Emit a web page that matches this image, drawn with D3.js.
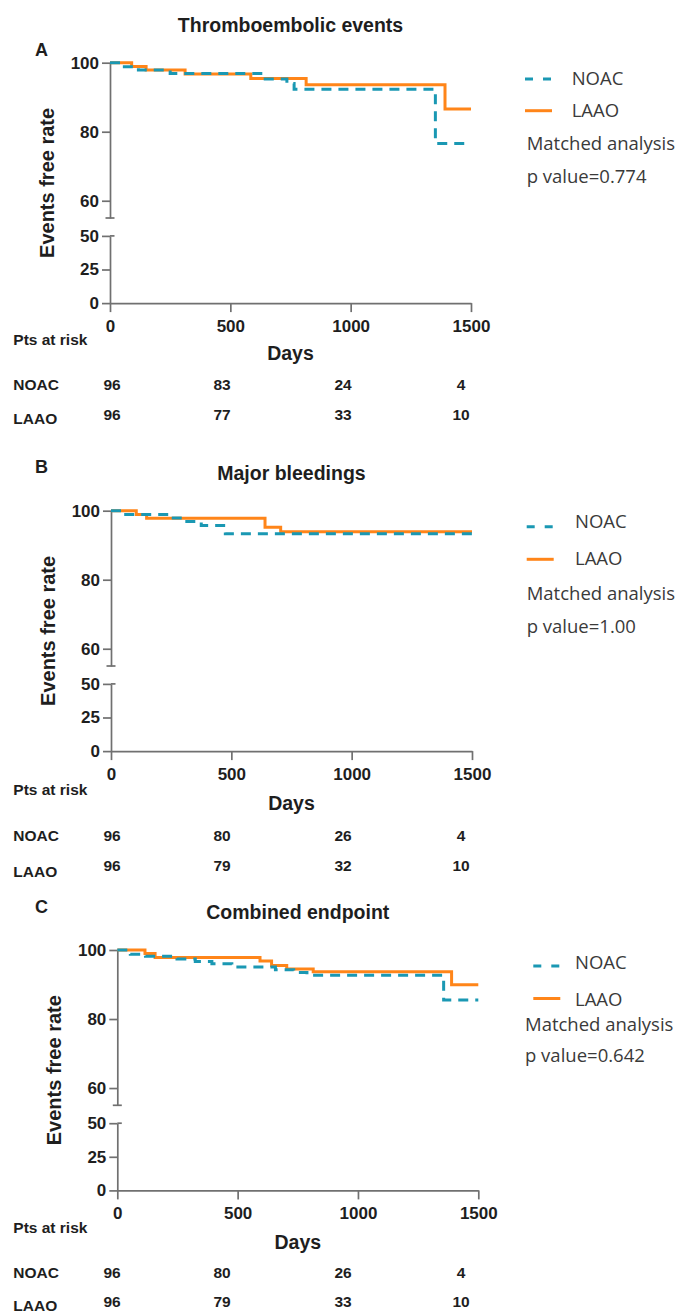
<!DOCTYPE html>
<html>
<head>
<meta charset="utf-8">
<script src="https://cdn.jsdelivr.net/npm/d3@7"></script>
<style>
  html, body { margin: 0; padding: 0; background: #fff; }
  svg { display: block; }
</style>
</head>
<body>
<svg id="chart" width="682" height="1314"></svg>
<script>
// ---------------- DATA ----------------
const dayTicks = [0, 500, 1000, 1500];
const upperTicks = [60, 80, 100];
const lowerTicks = [0, 25, 50];
const panelLetters = ["A", "B", "C"];
const panelTitles = ["Thromboembolic events", "Major bleedings", "Combined endpoint"];
const seriesNames = ["NOAC", "LAAO"];
const noteText = "Matched analysis";
const pValues = ["p value=0.774", "p value=1.00", "p value=0.642"];
const riskHeader = "Pts at risk";
const xLabel = "Days";
const yLabel = "Events free rate";

// numbers at risk at 0, 500, 1000, 1500 days
const riskNOAC = [[96, 83, 24, 4], [96, 80, 26, 4], [96, 80, 26, 4]];
const riskLAAO = [[96, 77, 33, 10], [96, 79, 32, 10], [96, 79, 33, 10]];

// Kaplan-Meier step curves: [day, event-free %]
const noacA = [[0,100],[50,98.8],[118,97.9],[250,96.9],[645,95.3],[735,94.0],[765,92.3],[1352,76.6],[1500,76.6]];
const laaoA = [[0,100],[90,98.9],[150,97.9],[312,96.7],[585,95.4],[815,93.6],[1392,86.6],[1500,86.6]];
const noacB = [[0,100],[45,98.9],[250,97.9],[315,96.9],[375,95.7],[475,93.3],[1500,93.3]];
const laaoB = [[0,100],[105,98.9],[148,97.8],[640,95.2],[705,93.9],[1500,93.9]];
const noacC = [[0,100],[54,98.8],[117,98.2],[248,97.4],[324,96.7],[393,96.0],[476,95.1],[657,94.3],[733,93.5],[788,92.7],[1356,85.5],[1500,85.5]];
const laaoC = [[0,100],[115,99.0],[157,97.8],[593,96.8],[641,95.5],[704,94.5],[814,93.7],[1389,89.9],[1500,89.9]];

const noacCurves = [noacA, noacB, noacC];
const laaoCurves = [laaoA, laaoB, laaoC];

// ---------------- LAYOUT ----------------
const layout = [
  {top: 62.7, axisX: 110, letterY: 56.4, legendText: [79, 110.7, 144, 176.7], legendLine: [79, 110.7], lineX: 525, textX: 571.7, noteX: 526.7, risk: [36.7, 81.7, 111.7, 115], daysDy: 49.7},
  {top: 510.7, axisX: 111, letterY: 473.1, legendText: [521.7, 559, 594, 626.7], legendLine: [526.7, 559.3], lineX: 526.7, textX: 575, noteX: 526.7, risk: [38.6, 84.3, 114.3, 120.3], daysDy: 52},
  {top: 950, axisX: 117.3, letterY: 913.1, legendText: [962.7, 999.5, 1025, 1055.5], legendLine: [966, 998.5], lineX: 533.3, textX: 575, noteX: 525, risk: [36.7, 81.7, 110.7, 115], daysDy: 51.7}
];
const plotW = 361;
const upperH = 155.3, lowerTopOff = 173.2, bottomOff = 240.4;
const riskX = d3.scaleOrdinal().domain(dayTicks).range([112, 222, 343, 461]);

const colNOAC = "#1a98b3";
const colLAAO = "#ff8519";
const axisCol = "#707070";
const textCol = "#1e1e1e";
const axisFont = "'Liberation Sans', Arial, sans-serif";
const legendFont = "'Open Sans', 'Noto Sans', sans-serif";

const svg = d3.select("#chart");

layout.forEach((L, i) => {
  const g = svg.append("g");
  const x = d3.scaleLinear().domain([0, 1500]).range([L.axisX, L.axisX + plotW]);
  const yU = d3.scaleLinear().domain([55, 100]).range([L.top + upperH, L.top]);
  const yL = d3.scaleLinear().domain([0, 50]).range([L.top + bottomOff, L.top + lowerTopOff]);
  const bottom = L.top + bottomOff;

  // Upper y axis
  const axU = g.append("g").attr("transform", `translate(${L.axisX},0)`)
    .call(d3.axisLeft(yU).tickValues(upperTicks).tickSize(8).tickPadding(3).tickSizeOuter(0));
  // Lower y axis
  const axL = g.append("g").attr("transform", `translate(${L.axisX},0)`)
    .call(d3.axisLeft(yL).tickValues(lowerTicks).tickSize(8).tickPadding(3).tickSizeOuter(0));
  // X axis
  const axX = g.append("g").attr("transform", `translate(0,${bottom})`)
    .call(d3.axisBottom(x).tickValues(dayTicks).tickFormat(d3.format("d"))
      .tickSize(9).tickPadding(8).tickSizeOuter(0));

  [axU, axL, axX].forEach(a => {
    a.selectAll("path.domain").attr("stroke", axisCol).attr("stroke-width", 1.7);
    a.selectAll(".tick line").attr("stroke", axisCol).attr("stroke-width", 1.7);
    a.selectAll(".tick text").attr("fill", textCol).attr("font-family", axisFont)
      .attr("font-size", 17).attr("font-weight", "bold");
  });

  // axis break caps
  g.append("line").attr("x1", L.axisX - 4.5).attr("x2", L.axisX + 4.5)
    .attr("y1", yU(55)).attr("y2", yU(55)).attr("stroke", axisCol).attr("stroke-width", 1.7);
  g.append("line").attr("x1", L.axisX).attr("x2", L.axisX + 4.5)
    .attr("y1", yL(50)).attr("y2", yL(50)).attr("stroke", axisCol).attr("stroke-width", 1.7);

  // curves
  const line = d3.line().x(d => x(d[0])).y(d => yU(d[1])).curve(d3.curveStepAfter);
  g.append("path").datum(laaoCurves[i]).attr("d", line)
    .attr("fill", "none").attr("stroke", colLAAO).attr("stroke-width", 3);
  g.append("path").datum(noacCurves[i]).attr("d", line)
    .attr("fill", "none").attr("stroke", colNOAC).attr("stroke-width", 3)
    .attr("stroke-dasharray", "10,7");

  // title and letter
  g.append("text").attr("x", L.axisX + plotW / 2).attr("y", L.top - 30.7)
    .attr("text-anchor", "middle").attr("font-family", axisFont).attr("font-weight", "bold")
    .attr("font-size", 19.5).attr("fill", textCol).text(panelTitles[i]);
  g.append("text").attr("x", 35).attr("y", L.letterY)
    .attr("font-family", axisFont).attr("font-weight", "bold")
    .attr("font-size", 18).attr("fill", textCol).text(panelLetters[i]);

  // y label
  const ymid = (L.top + bottom) / 2;
  g.append("text").attr("transform", `translate(${L.axisX - 63},${ymid}) rotate(-90)`)
    .attr("text-anchor", "middle").attr("dy", "0.35em")
    .attr("font-family", axisFont).attr("font-weight", "bold")
    .attr("font-size", 20).attr("fill", textCol).text(yLabel);

  // x label
  g.append("text").attr("x", L.axisX + plotW / 2).attr("y", bottom + L.daysDy)
    .attr("text-anchor", "middle").attr("dy", "0.35em")
    .attr("font-family", axisFont).attr("font-weight", "bold")
    .attr("font-size", 19.5).attr("fill", textCol).text(xLabel);

  // risk table
  const rt = g.append("g").attr("font-family", axisFont).attr("font-weight", "bold")
    .attr("font-size", 15.5).attr("fill", textCol);
  rt.append("text").attr("x", 13.3).attr("y", bottom + L.risk[0]).attr("dy", "0.35em").text(riskHeader);
  rt.append("text").attr("x", 13.3).attr("y", bottom + L.risk[1]).attr("dy", "0.35em").text(seriesNames[0]);
  rt.append("text").attr("x", 13.3).attr("y", bottom + L.risk[3]).attr("dy", "0.35em").text(seriesNames[1]);
  rt.selectAll("text.rn").data(riskNOAC[i]).enter().append("text").attr("class", "rn")
    .attr("x", (d, j) => riskX(dayTicks[j])).attr("y", bottom + L.risk[1]).attr("dy", "0.35em")
    .attr("text-anchor", "middle").text(d => d);
  rt.selectAll("text.rl").data(riskLAAO[i]).enter().append("text").attr("class", "rl")
    .attr("x", (d, j) => riskX(dayTicks[j])).attr("y", bottom + L.risk[2]).attr("dy", "0.35em")
    .attr("text-anchor", "middle").text(d => d);

  // legend
  const lg = g.append("g");
  lg.append("line").attr("x1", L.lineX).attr("x2", L.lineX + 27)
    .attr("y1", L.legendLine[0]).attr("y2", L.legendLine[0])
    .attr("stroke", colNOAC).attr("stroke-width", 3).attr("stroke-dasharray", "8,10");
  lg.append("line").attr("x1", L.lineX).attr("x2", L.lineX + 27)
    .attr("y1", L.legendLine[1]).attr("y2", L.legendLine[1])
    .attr("stroke", colLAAO).attr("stroke-width", 3);
  const lt = [
    [L.textX, L.legendText[0], seriesNames[0]],
    [L.textX, L.legendText[1], seriesNames[1]],
    [L.noteX, L.legendText[2], noteText],
    [L.noteX, L.legendText[3], pValues[i]]
  ];
  lg.selectAll("text").data(lt).enter().append("text")
    .attr("x", d => d[0]).attr("y", d => d[1]).attr("dy", "0.35em")
    .attr("font-family", legendFont).attr("font-size", 18.5).attr("fill", "#3a3a3a")
    .text(d => d[2]);
});
</script>
</body>
</html>
